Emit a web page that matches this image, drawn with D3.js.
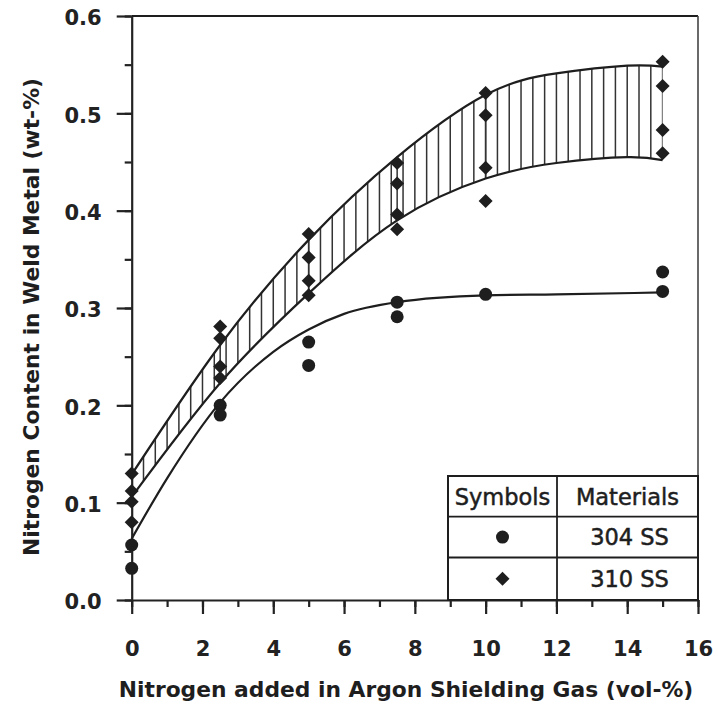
<!DOCTYPE html>
<html>
<head>
<meta charset="utf-8">
<script src="https://cdn.jsdelivr.net/npm/d3@7"></script>
<style>
  body { margin: 0; background: #fff; }
  svg { display: block; font-family: "DejaVu Sans", Verdana, sans-serif; }
  .axis path, .axis line { stroke: #222; }
  .axis text { fill: #222; }
</style>
</head>
<body>
<script>
// ==== data ====
var nAdded = [0, 2.5, 5, 7.5, 10, 15];            // vol-% N2 in Ar
// measured weld metal N (wt-%), several welds per gas mixture
var ss304 = [[0.0565, 0.0325], [0.200, 0.190], [0.265, 0.241], [0.306, 0.291], [0.314], [0.337, 0.317]];
var ss310 = [[0.130, 0.112, 0.101, 0.080], [0.281, 0.269, 0.240, 0.228], [0.376, 0.352, 0.328, 0.313],
             [0.449, 0.428, 0.396, 0.381], [0.521, 0.498, 0.444, 0.410], [0.553, 0.528, 0.483, 0.459]];

// fitted curves
var fitX310 = [0, 2.5, 5, 7.5, 10, 12, 14, 15];
var upper310 = [0.129, 0.262, 0.370, 0.455, 0.519, 0.541, 0.549, 0.548];
var lower310 = [0.106, 0.223, 0.315, 0.390, 0.433, 0.449, 0.455, 0.452];
var fitX304 = [0, 1, 2.5, 4, 5, 6, 7.5, 10, 12, 15];
var fit304 = [0.063, 0.125, 0.203, 0.255, 0.278, 0.294, 0.306, 0.313, 0.314, 0.316];

var xTicks = [0, 2, 4, 6, 8, 10, 12, 14, 16];
var yTicks = [0, 0.1, 0.2, 0.3, 0.4, 0.5, 0.6];
var materials = ["304 SS", "310 SS"];
var xTitle = "Nitrogen added in Argon Shielding Gas (vol-%)";
var yTitle = "Nitrogen Content in Weld Metal (wt-%)";

// ==== setup ====
var width = 718, height = 710;
var ink = "#1e1e1e";

var svg = d3.select("body").append("svg")
    .attr("width", width)
    .attr("height", height);

svg.append("rect").attr("width", width).attr("height", height).attr("fill", "#fff");

var x = d3.scaleLinear().domain([0, 16]).range([131.7, 698]);
var y = d3.scaleLinear().domain([0, 0.6]).range([600, 16]);

var circle = d3.symbol().type(d3.symbolCircle).size(Math.PI * 6.5 * 6.5);
var diamond = d3.symbol().type(d3.symbolSquare).size(98);

// ==== hatched band for 310 SS ====
var band = fitX310.map(function(d, i) { return { x: d, hi: upper310[i], lo: lower310[i] }; });

var area = d3.area()
    .x(function(d) { return x(d.x); })
    .y0(function(d) { return y(d.lo); })
    .y1(function(d) { return y(d.hi); })
    .curve(d3.curveNatural);

svg.append("clipPath").attr("id", "bandClip")
  .append("path").attr("d", area(band));

// hatch every 1/3 vol-% plus at each gas mixture
var hatchX = d3.range(1, 46).map(function(k) { return k / 3; }).concat(nAdded.slice(1, 5));

svg.append("g")
    .attr("clip-path", "url(#bandClip)")
  .selectAll("line")
    .data(hatchX)
  .enter().append("line")
    .attr("x1", function(d) { return x(d); })
    .attr("x2", function(d) { return x(d); })
    .attr("y1", y(0.6))
    .attr("y2", y(0))
    .attr("stroke", "#333")
    .attr("stroke-width", 1.5);

var lineUp = d3.line()
    .x(function(d) { return x(d.x); })
    .y(function(d) { return y(d.hi); })
    .curve(d3.curveNatural);
var lineLo = d3.line()
    .x(function(d) { return x(d.x); })
    .y(function(d) { return y(d.lo); })
    .curve(d3.curveNatural);

svg.append("path").attr("d", lineUp(band))
    .attr("fill", "none").attr("stroke", ink).attr("stroke-width", 2.2);
svg.append("path").attr("d", lineLo(band))
    .attr("fill", "none").attr("stroke", ink).attr("stroke-width", 2.2);

// ==== 304 SS curve ====
var line304 = d3.line()
    .x(function(d, i) { return x(fitX304[i]); })
    .y(function(d) { return y(d); })
    .curve(d3.curveMonotoneX);

svg.append("path").attr("d", line304(fit304))
    .attr("fill", "none").attr("stroke", ink).attr("stroke-width", 2.2);

// ==== axes ====
var xMinor = d3.range(0, 17);
var yMinor = d3.range(0, 13).map(function(k) { return k * 0.05; });

svg.append("g").attr("class", "axis")
    .attr("transform", "translate(0," + y(0) + ")")
    .call(d3.axisBottom(x).tickValues(xMinor).tickSize(7).tickFormat("").tickSizeOuter(0))
    .call(function(g) { g.select(".domain").remove(); });

svg.append("g").attr("class", "axis")
    .attr("transform", "translate(" + x(0) + ",0)")
    .call(d3.axisLeft(y).tickValues(yMinor).tickSize(7).tickFormat("").tickSizeOuter(0))
    .call(function(g) { g.select(".domain").remove(); });

var xAxis = svg.append("g").attr("class", "axis")
    .attr("transform", "translate(0," + y(0) + ")")
    .call(d3.axisBottom(x).tickValues(xTicks).tickSize(14).tickPadding(27).tickSizeOuter(0));

var yAxis = svg.append("g").attr("class", "axis")
    .attr("transform", "translate(" + x(0) + ",0)")
    .call(d3.axisLeft(y).tickValues(yTicks).tickSize(15).tickPadding(15)
      .tickFormat(d3.format(".1f")).tickSizeOuter(0));

svg.selectAll(".axis path, .axis line").attr("stroke-width", 2.2);
svg.selectAll(".axis text")
    .attr("font-family", "'DejaVu Sans', Verdana, sans-serif")
    .attr("font-size", 21)
    .attr("font-weight", "bold");
yAxis.selectAll("text").attr("dy", "0.42em");

// frame top and right
svg.append("line")
    .attr("x1", x(0)).attr("x2", x(16))
    .attr("y1", y(0.6)).attr("y2", y(0.6))
    .attr("stroke", ink).attr("stroke-width", 2.2);
svg.append("line")
    .attr("x1", x(16)).attr("x2", x(16))
    .attr("y1", y(0.6)).attr("y2", y(0))
    .attr("stroke", "#444").attr("stroke-width", 1.6);

// titles
svg.append("text")
    .attr("x", 406)
    .attr("y", 697)
    .attr("text-anchor", "middle")
    .attr("font-size", 21.8)
    .attr("font-weight", "bold")
    .attr("fill", ink)
    .text(xTitle);

svg.append("text")
    .attr("transform", "translate(39," + 317 + ") rotate(-90)")
    .attr("text-anchor", "middle")
    .attr("font-size", 21.8)
    .attr("font-weight", "bold")
    .attr("fill", ink)
    .text(yTitle);

// ==== data points ====
function flat(groups) {
  var out = [];
  groups.forEach(function(vals, i) {
    vals.forEach(function(v) { out.push({ x: nAdded[i], v: v }); });
  });
  return out;
}

svg.append("g").selectAll("path")
    .data(flat(ss304))
  .enter().append("path")
    .attr("d", circle)
    .attr("transform", function(d) { return "translate(" + x(d.x) + "," + y(d.v) + ")"; })
    .attr("fill", ink);

svg.append("g").selectAll("path")
    .data(flat(ss310))
  .enter().append("path")
    .attr("d", diamond)
    .attr("transform", function(d) { return "translate(" + x(d.x) + "," + y(d.v) + ") rotate(45)"; })
    .attr("fill", ink);

// ==== legend table ====
var lg = { left: 448, mid: 557, right: x(16), top: 476, rows: [516.7, 557.5, y(0)] };
var legend = svg.append("g");

legend.append("rect")
    .attr("x", lg.left).attr("y", lg.top)
    .attr("width", lg.right - lg.left).attr("height", y(0) - lg.top)
    .attr("fill", "#fff").attr("stroke", ink).attr("stroke-width", 2);
legend.append("line")
    .attr("x1", lg.mid).attr("x2", lg.mid).attr("y1", lg.top).attr("y2", y(0))
    .attr("stroke", ink).attr("stroke-width", 1.8);
legend.selectAll("line.row")
    .data(lg.rows.slice(0, 2))
  .enter().append("line")
    .attr("class", "row")
    .attr("x1", lg.left).attr("x2", lg.right)
    .attr("y1", function(d) { return d; }).attr("y2", function(d) { return d; })
    .attr("stroke", ink).attr("stroke-width", 1.8);

var headers = ["Symbols", "Materials"];
legend.selectAll("text.head")
    .data(headers)
  .enter().append("text")
    .attr("class", "head")
    .attr("x", function(d, i) { return i ? (lg.mid + lg.right) / 2 : (lg.left + lg.mid) / 2; })
    .attr("y", lg.top + 29)
    .attr("text-anchor", "middle")
    .attr("font-size", 22.5)
    .attr("fill", ink)
    .attr("stroke", ink).attr("stroke-width", 0.5)
    .text(function(d) { return d; });

var rowTops = [lg.rows[0], lg.rows[1]];
materials.forEach(function(m, i) {
  var cy = (rowTops[i] + lg.rows[i + 1]) / 2;
  legend.append("path")
      .attr("d", i ? diamond : circle)
      .attr("transform", "translate(" + (lg.left + lg.mid) / 2 + "," + cy + ")" + (i ? " rotate(45)" : ""))
      .attr("fill", ink);
  legend.append("text")
      .attr("x", (lg.mid + lg.right) / 2 + 2)
      .attr("y", cy + 8)
      .attr("text-anchor", "middle")
      .attr("font-size", 22.5)
      .attr("fill", ink)
      .attr("stroke", ink).attr("stroke-width", 0.5)
      .text(m);
});
</script>
</body>
</html>
